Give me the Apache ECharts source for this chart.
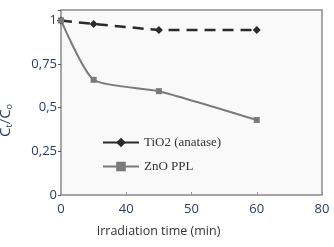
<!DOCTYPE html>
<html>
<head>
<meta charset="utf-8">
<script src="https://cdn.jsdelivr.net/npm/echarts@6/dist/echarts.min.js"></script>
<style>
    html, body { margin: 0; padding: 0; background: #fff; }
    #main { width: 334px; height: 247px; }
</style>
</head>
<body>
<div id="main"></div>
<script>
    // irradiation time, in axis units (ticks are relabelled below)
    var times = [0, 10, 30, 60];
    var tio2 = [1.0, 0.98, 0.945, 0.945];
    var znoPpl = [1.0, 0.66, 0.595, 0.43];
    var xTickLabels = ['0', '40', '50', '60', '80'];
    var yTickLabels = {'0': '0', '0.25': '0,25', '0.5': '0,5', '0.75': '0,75', '1': '1'};

    function pairs(xs, ys) {
        var out = [];
        for (var i = 0; i < xs.length; i++) {
            out.push([xs[i], ys[i]]);
        }
        return out;
    }

    var myChart = echarts.init(document.getElementById('main'));
    myChart.setOption({
        animation: false,
        grid: {
            left: 61, right: 12, top: 10, bottom: 52,
            outerBoundsMode: 'none',
            containLabel: false,
            show: true,
            backgroundColor: '#f9f9f9',
            borderColor: '#8a8a8a',
            borderWidth: 1.5
        },
        legend: {
            orient: 'vertical',
            left: 97,
            top: 131,
            itemWidth: 36,
            itemHeight: 12,
            itemGap: 11,
            textStyle: {
                fontFamily: 'Liberation Serif',
                fontSize: 13,
                color: '#333'
            },
            data: [
                { name: 'TiO2 (anatase)', lineStyle: { type: 'solid' } },
                { name: 'ZnO PPL' }
            ]
        },
        xAxis: {
            type: 'value',
            min: 0,
            max: 80,
            interval: 20,
            name: 'Irradiation time (min)',
            nameLocation: 'middle',
            nameGap: 30,
            nameTextStyle: {
                fontFamily: 'Open Sans',
                fontSize: 12.5,
                color: '#333',
                padding: [0, 66, 0, 0]
            },
            axisLine: { show: false },
            axisTick: { show: true, inside: true, length: 3, lineStyle: { color: '#999' } },
            splitLine: { show: false },
            axisLabel: {
                fontFamily: 'Open Sans',
                fontSize: 13,
                color: '#2b3a67',
                margin: 8,
                formatter: function (v) {
                    var i = Math.round(Number(v) / 20);
                    return xTickLabels[i] !== undefined ? xTickLabels[i] : '';
                }
            }
        },
        yAxis: {
            type: 'value',
            min: 0,
            max: 1.06,
            interval: 0.25,
            name: 'C{s|t}/C{s|o}',
            nameLocation: 'middle',
            nameRotate: 90,
            nameGap: 47,
            nameTextStyle: {
                fontFamily: 'Open Sans',
                fontSize: 15,
                color: '#2b3a67',
                padding: [0, 36, 0, 0],
                rich: {
                    s: { fontSize: 9, color: '#2b3a67', verticalAlign: 'bottom', padding: [8, 0, 0, 0] }
                }
            },
            axisLine: { show: false },
            axisTick: { show: true, length: 3, lineStyle: { color: '#555' } },
            splitLine: { show: false },
            axisLabel: {
                fontFamily: 'Open Sans',
                fontSize: 13,
                color: '#2b3a67',
                margin: 4,
                formatter: function (v) {
                    var key = String(Math.round(v * 100) / 100);
                    return yTickLabels[key] !== undefined ? yTickLabels[key] : '';
                }
            }
        },
        series: [
            {
                name: 'TiO2 (anatase)',
                type: 'line',
                data: pairs(times, tio2),
                symbol: 'diamond',
                symbolSize: 8,
                itemStyle: { color: '#2a2a2a' },
                lineStyle: { color: '#2a2a2a', width: 2.5, type: [11, 7] }
            },
            {
                name: 'ZnO PPL',
                type: 'line',
                data: pairs(times, znoPpl),
                smooth: 0.2,
                symbol: 'rect',
                symbolSize: 6,
                itemStyle: { color: '#7a7a7a' },
                lineStyle: { color: '#7a7a7a', width: 2 }
            }
        ]
    });
</script>
</body>
</html>
